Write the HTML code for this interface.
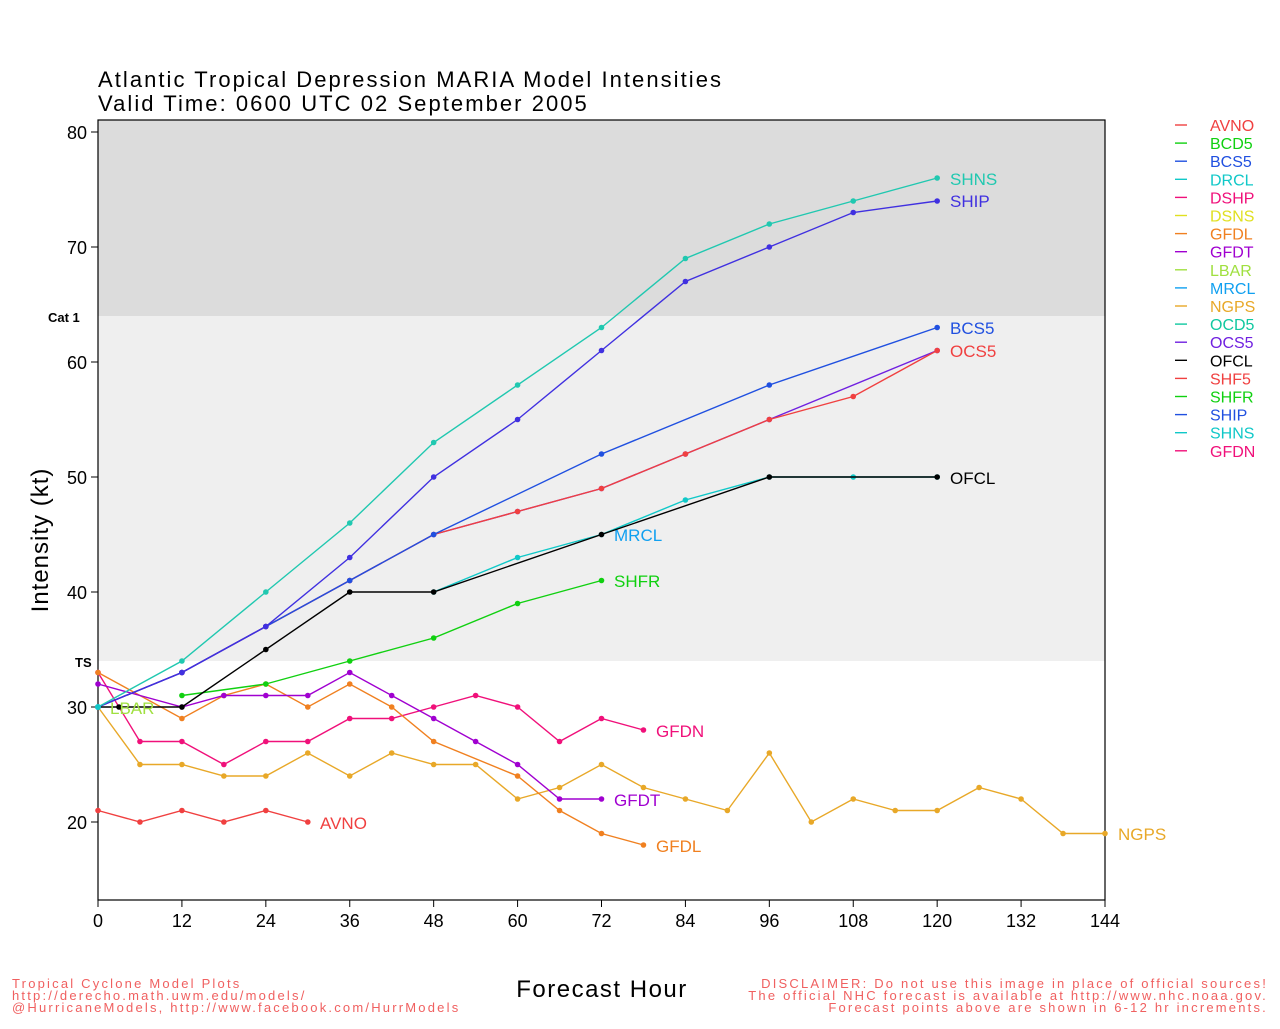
<!DOCTYPE html>
<html><head><meta charset="utf-8"><style>
body{margin:0;background:#fff;width:1280px;height:1024px;overflow:hidden}
svg{font-family:"Liberation Sans","DejaVu Sans",sans-serif}
</style></head><body>
<svg id="s" width="1280" height="1024" viewBox="0 0 1280 1024" xmlns="http://www.w3.org/2000/svg">
<rect width="1280" height="1024" fill="#fff"/>
<rect x="98" y="120" width="1007" height="196" fill="#dcdcdc"/>
<rect x="98" y="316" width="1007" height="345" fill="#efefef"/>
<rect x="98" y="120" width="1007" height="780" fill="none" stroke="#000" stroke-width="1.2"/>
<text x="98" y="87" font-size="22" fill="#000" letter-spacing="2.05">Atlantic Tropical Depression MARIA Model Intensities</text>
<text x="98" y="111" font-size="22" fill="#000" letter-spacing="2.05">Valid Time: 0600 UTC 02 September 2005</text>
<text x="48" y="322" font-size="13" font-weight="bold">Cat 1</text>
<text x="75" y="667" font-size="13" font-weight="bold">TS</text>
<text transform="translate(48,540) rotate(-90)" font-size="24" text-anchor="middle" letter-spacing="1">Intensity (kt)</text>
<text x="602" y="997" font-size="24" text-anchor="middle" letter-spacing="1.5">Forecast Hour</text>
<g font-size="13" fill="#f06060" letter-spacing="2.2">
<text x="12" y="988">Tropical Cyclone Model Plots</text>
<text x="12" y="1000">http://derecho.math.uwm.edu/models/</text>
<text x="12" y="1012">@HurricaneModels, http://www.facebook.com/HurrModels</text>
<text x="1268" y="988" text-anchor="end">DISCLAIMER: Do not use this image in place of official sources!</text>
<text x="1268" y="1000" text-anchor="end">The official NHC forecast is available at http://www.nhc.noaa.gov.</text>
<text x="1268" y="1012" text-anchor="end">Forecast points above are shown in 6-12 hr increments.</text>
</g>
<g id="ax"></g><g id="ser"></g><g id="lg"></g>
</svg>
<script>
const NS="http://www.w3.org/2000/svg";
function X(h){return 98+h*1007/144}
function Y(v){return 822-(v-20)*11.5}
function el(p,t,a,txt){const e=document.createElementNS(NS,t);for(const k in a)e.setAttribute(k,a[k]);if(txt!=null)e.textContent=txt;document.getElementById(p).appendChild(e);return e}
for(let h=0;h<=144;h+=12){el("ax","line",{x1:X(h),x2:X(h),y1:900,y2:907,stroke:"#000"});el("ax","text",{x:X(h),y:927,"font-size":18,"text-anchor":"middle"},h)}
for(let v=20;v<=80;v+=10){el("ax","line",{x1:91,x2:98,y1:Y(v),y2:Y(v),stroke:"#000"});el("ax","text",{x:87,y:Y(v)+7,"font-size":18,"text-anchor":"end"},v)}
const S=[
["NGPS","#e8a828",[[0,30],[6,25],[12,25],[18,24],[24,24],[30,26],[36,24],[42,26],[48,25],[54,25],[60,22],[66,23],[72,25],[78,23],[84,22],[90,21],[96,26],[102,20],[108,22],[114,21],[120,21],[126,23],[132,22],[138,19],[144,19]],"NGPS",1118,840],
["AVNO","#f04040",[[0,21],[6,20],[12,21],[18,20],[24,21],[30,20]],"AVNO",320,829],
["GFDN","#f0107a",[[0,33],[6,27],[12,27],[18,25],[24,27],[30,27],[36,29],[42,29],[48,30],[54,31],[60,30],[66,27],[72,29],[78,28]],"GFDN",656,737],
["GFDL","#f08020",[[0,33],[12,29],[18,31],[24,32],[30,30],[36,32],[42,30],[48,27],[60,24],[66,21],[72,19],[78,18]],"GFDL",656,852],
["GFDT","#a000d0",[[0,32],[12,30],[18,31],[24,31],[30,31],[36,33],[42,31],[48,29],[54,27],[60,25],[66,22],[72,22]],"GFDT",614,806],
["SHFR","#10d010",[[12,31],[24,32],[36,34],[48,36],[60,39],[72,41]],"SHFR",614,587],
["DRCL","#10c8c8",[[48,40],[60,43],[72,45],[84,48],[96,50],[108,50],[120,50]],"MRCL",614,541],
["OFCL","#000000",[[0,30],[3,30],[12,30],[24,35],[36,40],[48,40],[72,45],[96,50],[120,50]],"OFCL",950,484],
["OCS5","#7020e0",[[0,30],[12,33],[24,37],[36,41],[48,45],[60,47],[72,49],[84,52],[96,55],[120,61]],"",0,0],
["SHF5","#f04040",[[0,30],[12,33],[24,37],[36,41],[48,45],[60,47],[72,49],[84,52],[96,55],[108,57],[120,61]],"OCS5",950,357],
["BCS5","#2050e0",[[0,30],[12,33],[24,37],[36,41],[48,45],[72,52],[96,58],[120,63]],"BCS5",950,334],
["SHIP","#4030e0",[[0,30],[12,33],[24,37],[36,43],[48,50],[60,55],[72,61],[84,67],[96,70],[108,73],[120,74]],"SHIP",950,207],
["SHNS","#20c8b0",[[0,30],[12,34],[24,40],[36,46],[48,53],[60,58],[72,63],[84,69],[96,72],[108,74],[120,76]],"SHNS",950,185]
];
for(const [n,c,d,l,lx,ly] of S){
 el("ser","polyline",{points:d.map(p=>X(p[0])+","+Y(p[1])).join(" "),fill:"none",stroke:c,"stroke-width":1.4});
 for(const p of d)el("ser","circle",{cx:X(p[0]),cy:Y(p[1]),r:2.8,fill:c});
 if(l){let col=c;if(l=="MRCL")col="#10a0f0";if(l=="OCS5")col="#f04040";el("ser","text",{x:lx,y:ly,"font-size":17,fill:col},l)}
}
el("ser","text",{x:110,y:714,"font-size":17,fill:"#a0e040"},"LBAR");
el("ser","circle",{cx:X(0),cy:Y(30),r:3,fill:"#10c8c8"});
const L=[["AVNO","#f04040"],["BCD5","#10d010"],["BCS5","#2050e0"],["DRCL","#10c8c8"],["DSHP","#f0107a"],["DSNS","#e0e020"],["GFDL","#f08020"],["GFDT","#a000d0"],["LBAR","#a0e040"],["MRCL","#10a0f0"],["NGPS","#e8a828"],["OCD5","#10c8a0"],["OCS5","#7020e0"],["OFCL","#000000"],["SHF5","#f04040"],["SHFR","#10d010"],["SHIP","#2050e0"],["SHNS","#10c8c8"],["GFDN","#f0107a"]];
L.forEach((e,i)=>{const y=125+i*18.1;el("lg","line",{x1:1175,x2:1187,y1:y,y2:y,stroke:e[1],"stroke-width":1.4});el("lg","text",{x:1210,y:y+6,"font-size":16,fill:e[1]},e[0])});
</script>
</body></html>
